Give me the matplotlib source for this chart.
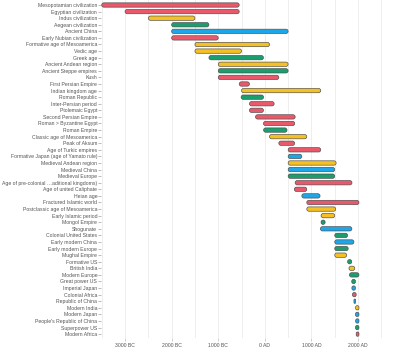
import matplotlib
matplotlib.use("Agg")
import matplotlib.pyplot as plt
from matplotlib.patches import FancyBboxPatch
from matplotlib.ticker import FixedLocator

# Periods of world history, top to bottom
periods = [
    "Mesopotamian civilization", "Egyptian civilization", "Indus civilization",
    "Aegean civilization", "Ancient China", "Early Nubian civilization",
    "Formative age of Mesoamerica", "Vedic age", "Greek age",
    "Ancient Andean region", "Ancient Steppe empires", "Kush",
    "First Persian Empire", "Indian kingdom age", "Roman Republic",
    "Inter-Persian period", "Ptolemaic Egypt", "Second Persian Empire",
    "Roman > Byzantine Egypt", "Roman Empire", "Classic age of Mesoamerica",
    "Peak of Aksum", "Age of Turkic empires", "Formative Japan (age of Yamato rule)",
    "Medieval Andean region", "Medieval China", "Medieval Europe",
    "Age of pre-colonial …aditional kingdoms)", "Age of united Caliphate", "Heian age",
    "Fractured Islamic world", "Postclassic age of Mesoamerica", "Early Islamic period",
    "Mongol Empire", "Shogunate", "Colonial United States",
    "Early modern China", "Early modern Europe", "Mughal Empire",
    "Formative US", "British India", "Modern Europe",
    "Great power US", "Imperial Japan", "Colonial Africa",
    "Republic of China", "Modern India", "Modern Japan",
    "People's Republic of China", "Superpower US", "Modern Africa",
]

starts = [
    -3500, -3000, -2500, -2000, -2000, -2000, -1500, -1500, -1200,
    -1000, -1000, -1000, -550, -500, -509, -330, -330, -200,
    -30, -27, 100, 300, 500, 500, 500, 500, 500,
    650, 632, 794, 900, 900, 1206, 1206, 1192, 1500,
    1500, 1500, 1500, 1776, 1805, 1815, 1865, 1868, 1880,
    1912, 1947, 1945, 1949, 1945, 1960,
]

ends = [
    -550, -550, -1500, -1200, 500, -1000, 100, -500, -30,
    500, 500, 300, -330, 1200, -27, 200, -30, 651,
    641, 476, 900, 640, 1200, 794, 1530, 1500, 1500,
    1870, 900, 1185, 2020, 1521, 1500, 1294, 1868, 1776,
    1912, 1789, 1757, 1865, 1930, 2020, 1945, 1945, 1960,
    1949, 2020, 2020, 2020, 2020, 2020,
]

regions = [
    "mideast", "mideast", "south", "west", "east", "mideast", "south", "south", "west",
    "south", "west", "mideast", "mideast", "south", "west", "mideast", "mideast", "mideast",
    "mideast", "west", "south", "mideast", "mideast", "east", "south", "east", "west",
    "mideast", "mideast", "east", "mideast", "south", "south", "west", "east", "west",
    "east", "west", "south", "west", "south", "west", "west", "east", "mideast",
    "east", "south", "east", "east", "west", "mideast",
]

year_ticks = [-3000, -2000, -1000, 0, 1000, 2000]
year_labels = ["3000 BC", "2000 BC", "1000 BC", "0 AD", "1000 AD", "2000 AD"]
grid_years = list(range(-3500, 2501, 1000))

region_colors = {
    "mideast": "#e85a6b",
    "south": "#f5c023",
    "west": "#1b9e6e",
    "east": "#1ea7e8",
}


def plot_timeline():
    """Draws the periods as rounded horizontal bars."""
    plt.rcParams["font.family"] = ["Liberation Sans", "DejaVu Sans"]

    fig = plt.figure(figsize=(4.0, 3.57), dpi=100)
    ax = fig.add_axes([0.252, 0.053, 0.713, 0.947])

    xlim = (-3520, 2600)
    ylim = (len(periods) - 0.4, -0.76)
    ax.set_xlim(*xlim)
    ax.set_ylim(*ylim)

    # data units per pixel, so the rounded ends come out circular
    w_px = 0.713 * 400
    h_px = 0.947 * 357
    x_per_px = (xlim[1] - xlim[0]) / w_px
    y_per_px = abs(ylim[0] - ylim[1]) / h_px
    aspect = y_per_px / x_per_px

    bar_h = 0.66
    for i, (s, e, reg) in enumerate(zip(starts, ends, regions)):
        width = e - s
        r = min(bar_h / aspect / 2, width / 2)
        patch = FancyBboxPatch(
            (s, i - bar_h / 2), width, bar_h,
            boxstyle=f"round,pad=0,rounding_size={r}",
            mutation_aspect=aspect,
            facecolor=region_colors[reg], edgecolor="#4a4a4a", linewidth=0.45,
            zorder=3,
        )
        ax.add_patch(patch)

    ax.set_yticks(range(len(periods)))
    ax.set_yticklabels(periods)
    ax.set_xticks(year_ticks)
    ax.set_xticklabels(year_labels)
    ax.xaxis.set_minor_locator(FixedLocator(grid_years))

    ax.tick_params(axis="y", length=2, width=0.4, color="#888888", pad=0.6,
                   labelsize=3.7, labelcolor="#555555")
    ax.tick_params(axis="x", which="major", length=2.2, width=0.4, color="#aaaaaa",
                   pad=1.5, labelsize=3.7, labelcolor="#555555")
    ax.tick_params(axis="x", which="minor", length=0)

    for spine in ax.spines.values():
        spine.set_visible(False)

    ax.grid(axis="x", which="both", color="#ebebeb", linewidth=0.6)
    ax.set_axisbelow(True)

    fig.savefig("out.png", dpi=100)


def main():
    plot_timeline()


if __name__ == "__main__":
    main()
